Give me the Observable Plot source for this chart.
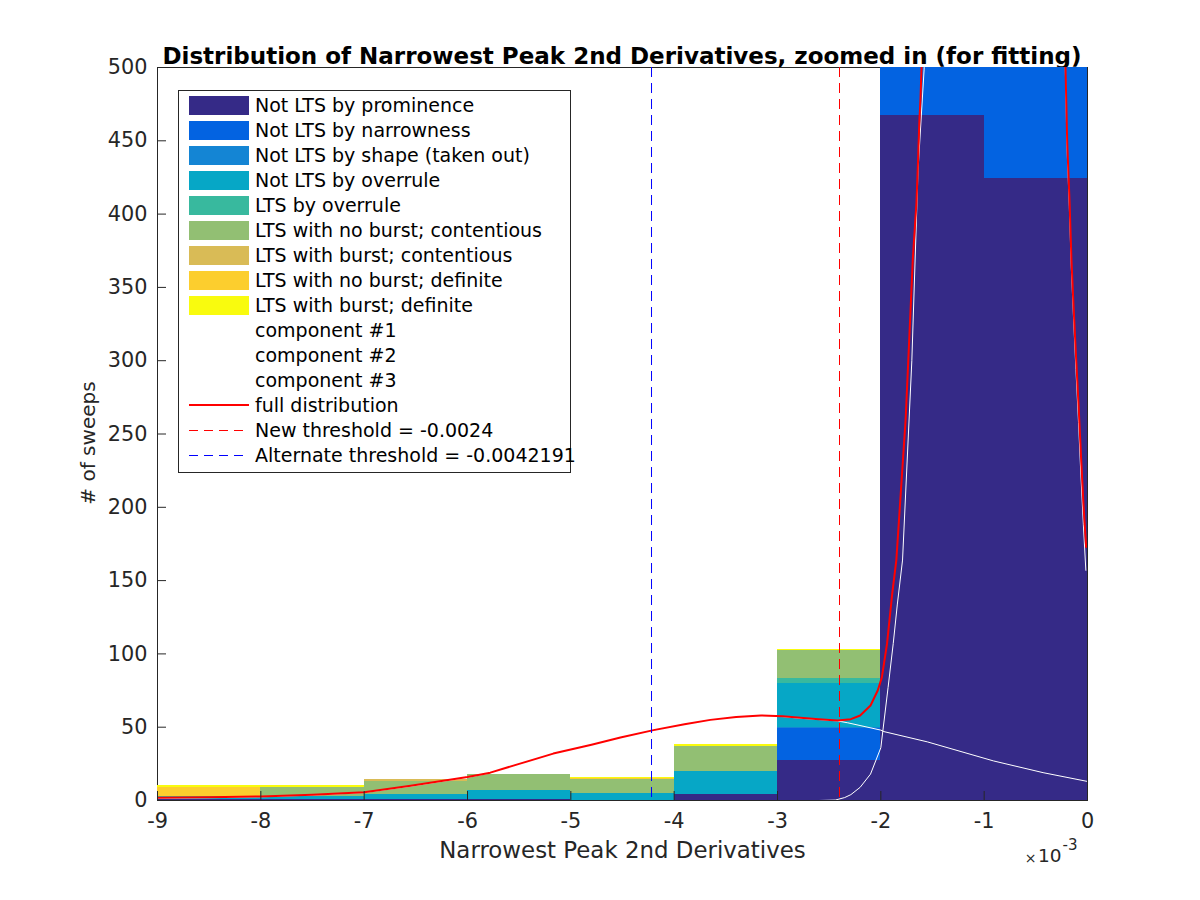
<!DOCTYPE html>
<html>
<head>
<meta charset="utf-8">
<script src="https://cdn.jsdelivr.net/npm/d3@7"></script>
<script src="https://cdn.jsdelivr.net/npm/@observablehq/plot@0.6"></script>
<style>
  body { margin: 0; background: #fff; }
  #wrap { position: relative; width: 1200px; height: 900px; background: #fff; }
  #title { height: 55px; box-sizing: border-box; padding-top: 43px; padding-left: 44px; line-height: 12px;
           font: 700 23px "DejaVu Sans"; text-align: center; color: #000; white-space: nowrap; }
  #legend { position: absolute; left: 178px; top: 90px; width: 393px; height: 383px; box-sizing: border-box;
            border: 1px solid #262626; background: #fff; font: 19px "DejaVu Sans"; color: #000; }
  .row { position: absolute; left: 0; height: 25px; width: 100%; }
  .sw { position: absolute; left: 10px; top: 3px; width: 60px; height: 19px; }
  .ln { position: absolute; left: 10px; top: 11px; width: 60px; height: 0; }
  .lab { position: absolute; left: 76px; top: 0; line-height: 25px; white-space: nowrap; }
</style>
</head>
<body>
<div id="wrap">
  <div id="title"></div>
  <div id="chart"></div>
  <div id="legend"></div>
</div>
<script>
// ---- data (x in units of 1e-3) ----
const titleText = "Distribution of Narrowest Peak 2nd Derivatives, zoomed in (for fitting)";
const xLabel = "Narrowest Peak 2nd Derivatives";
const yLabel = "# of sweeps";
const binEdges = [-9, -8, -7, -6, -5, -4, -3, -2, -1, 0];
const xTicks = [-9, -8, -7, -6, -5, -4, -3, -2, -1, 0];
const yTicks = [0, 50, 100, 150, 200, 250, 300, 350, 400, 450, 500];

const categories = [
  "Not LTS by prominence", "Not LTS by narrowness", "Not LTS by shape (taken out)",
  "Not LTS by overrule", "LTS by overrule", "LTS with no burst; contentious",
  "LTS with burst; contentious", "LTS with no burst; definite", "LTS with burst; definite"
];
const categoryColors = ["#352a87", "#0363e1", "#1485d4", "#06a7c6", "#38b99e", "#92bf73", "#d9bb56", "#fcce2e", "#f9fb0e"];

// counts per bin (bins -9..-8, -8..-7, ..., -1..0)
const notLtsProminence      = [1, 1, 1, 1, 0, 4, 27, 467, 424];
const notLtsNarrowness      = [0, 0, 0, 0, 0, 0, 22, 150, 120];
const notLtsShape           = [0, 0, 0, 0, 0, 0, 1, 0, 0];
const notLtsOverrule        = [1, 2, 3, 6, 5, 16, 30, 0, 0];
const ltsOverrule           = [1, 0, 0, 0, 0, 0, 3, 0, 0];
const ltsNoBurstContentious = [0, 6, 9, 11, 9, 17, 19, 0, 0];
const ltsBurstContentious   = [0, 0, 1, 0, 0, 0, 0, 0, 0];
const ltsNoBurstDefinite    = [6, 0, 0, 0, 1, 0, 0, 0, 0];
const ltsBurstDefinite      = [1, 1, 0, 0, 1, 1, 1, 0, 0];

// fitted curves
const fullX = [-9, -8.5, -8, -7.5, -7, -6.55, -6, -5.78, -5.5, -5.17, -4.8, -4.52, -4.2, -3.9, -3.65, -3.4, -3.16, -2.95, -2.78, -2.6, -2.42, -2.29, -2.2, -2.1, -2.03, -1.99, -1.94, -1.89, -1.85, -1.76, -1.69, -1.655, -1.638, -1.628, -1.616, -1.606, -1.5, -1.2, -0.9, -0.6, -0.35, -0.213, -0.196, -0.174, -0.155, -0.133, -0.109, -0.084, -0.061, -0.036, -0.013];
const fullY = [1.8, 2.2, 2.8, 4, 5.7, 10, 16, 19, 25, 32, 38, 43, 48, 52, 55, 57, 58, 57.5, 56.4, 55.5, 54.6, 55.5, 58, 64.8, 75, 84, 107, 141, 164, 260, 370, 408, 440, 462, 479, 500, 680, 1050, 1150, 1050, 700, 500, 448, 409, 368, 334, 300, 266, 232, 198, 173];

const wideX = [-9, -8.5, -8, -7.5, -7, -6.55, -6, -5.78, -5.5, -5.17, -4.8, -4.52, -4.2, -3.9, -3.65, -3.4, -3.16, -2.95, -2.78, -2.6, -2.42, -2.32, -2.0, -1.97, -1.55, -0.91, -0.43, 0];
const wideY = [1.5, 1.9, 2.5, 3.7, 5.4, 9.7, 15.7, 18.7, 24.7, 31.7, 37.7, 42.7, 47.7, 51.7, 54.7, 56.7, 57.7, 57.2, 56.1, 55.2, 54.3, 53, 48, 47, 40, 27, 19, 13];

const narrowX = [-9, -2.6, -2.44, -2.35, -2.29, -2.2, -2.1, -2.0, -1.93, -1.88, -1.84, -1.79, -1.7, -1.64, -1.58, -1.45, -1.2, -0.9, -0.6, -0.4, -0.215, -0.198, -0.176, -0.157, -0.135, -0.112, -0.087, -0.064, -0.04, -0.016];
const narrowY = [0, 0, 0.3, 2, 4, 9, 18, 36, 77, 107, 134, 164, 300, 430, 500, 700, 1050, 1150, 1050, 750, 500, 445, 405, 364, 329, 294, 258, 222, 188, 157];

const thresholdValues = [-2.4, -4.2191];
const thresholdColors = ["#ff0000", "#0000ff"];
const lineLabels = ["component #1", "component #2", "component #3", "full distribution",
                    "New threshold = -0.0024", "Alternate threshold = -0.0042191"];

// ---- build tables ----
const seriesCounts = [notLtsProminence, notLtsNarrowness, notLtsShape, notLtsOverrule, ltsOverrule,
  ltsNoBurstContentious, ltsBurstContentious, ltsNoBurstDefinite, ltsBurstDefinite];
const bars = [];
for (let b = 0; b < binEdges.length - 1; b++) {
  let base = 0;
  categories.forEach((c, i) => {
    const v = seriesCounts[i][b];
    if (v > 0) bars.push({x1: binEdges[b], x2: binEdges[b + 1], y1: base, y2: base + v, cat: c});
    base += v;
  });
}
const full = fullX.map((x, i) => ({x, y: fullY[i]}));
const wide = wideX.map((x, i) => ({x, y: wideY[i]}));
const narrow = narrowX.map((x, i) => ({x, y: narrowY[i]}));
const thresholds = thresholdValues.map((x, i) => ({x, c: thresholdColors[i]}));

document.getElementById("title").textContent = titleText;

const plot = Plot.plot({
  width: 1200, height: 845,
  marginTop: 12, marginBottom: 100, marginLeft: 157, marginRight: 113,
  style: {fontFamily: "DejaVu Sans", fontSize: "20px", color: "#262626", background: "white"},
  x: {domain: [-9, 0]},
  y: {domain: [0, 500]},
  color: {domain: categories, range: categoryColors},
  marks: [
    Plot.frame({stroke: "#262626"}),
    Plot.rect(bars, {x1: "x1", x2: "x2", y1: "y1", y2: "y2", fill: "cat", clip: true, shapeRendering: "crispEdges"}),
    Plot.line(narrow, {x: "x", y: "y", stroke: "white", strokeWidth: 1, clip: true}),
    Plot.line(wide, {x: "x", y: "y", stroke: "white", strokeWidth: 1, clip: true}),
    Plot.line(full, {x: "x", y: "y", stroke: "#ff0000", strokeWidth: 2, clip: true}),
    Plot.ruleX(thresholds, {x: "x", stroke: d => d.c, strokeWidth: 1, strokeDasharray: "10,6"}),
    Plot.axisX({ticks: xTicks, tickFormat: d => String(d), tickSize: -9, tickPadding: 22, label: null, fontSize: 20.8, stroke: "#262626"}),
    Plot.axisY({ticks: yTicks, tickFormat: d => String(d), tickSize: -9, tickPadding: 19, label: null, fontSize: 20.8, stroke: "#262626"}),
    Plot.text([xLabel], {frameAnchor: "bottom", dy: 50, fontSize: 22.9, lineAnchor: "middle", fill: "#262626"}),
    Plot.text([yLabel], {frameAnchor: "left", dx: -69, dy: 9, rotate: -90, fontSize: 20, textAnchor: "middle", lineAnchor: "middle", fill: "#262626"}),
    Plot.text(["×"], {frameAnchor: "bottom-right", dx: -51, dy: 58, textAnchor: "end", lineAnchor: "middle", fontSize: 14, fill: "#262626"}),
    Plot.text(["10"], {frameAnchor: "bottom-right", dx: -26, dy: 56, textAnchor: "end", lineAnchor: "middle", fontSize: 18.5, fill: "#262626"}),
    Plot.text(["-3"], {frameAnchor: "bottom-right", dx: -25, dy: 45, textAnchor: "start", lineAnchor: "middle", fontSize: 15, fill: "#262626"})
  ]
});
document.getElementById("chart").appendChild(plot);

// ---- legend ----
const legend = document.getElementById("legend");
const rowH = 25.07;
function addRow(i, swatchHtml, label) {
  const r = document.createElement("div");
  r.className = "row";
  r.style.top = (15 + rowH * i - 12.5 - 1) + "px";
  r.innerHTML = swatchHtml + `<span class="lab"></span>`;
  r.querySelector(".lab").textContent = label;
  legend.appendChild(r);
}
categories.forEach((c, i) => addRow(i, `<div class="sw" style="background:${categoryColors[i]}"></div>`, c));
function dashed(color) {
  return `<svg style="position:absolute;left:10px;top:11px" width="60" height="3"><line x1="0" y1="1.5" x2="60" y2="1.5" stroke="${color}" stroke-width="1" stroke-dasharray="9,6"/></svg>`;
}
lineLabels.forEach((l, j) => {
  const i = categories.length + j;
  let sw = "";
  if (j === 3) sw = `<div class="ln" style="border-top:2px solid #ff0000"></div>`;
  if (j === 4) sw = dashed(thresholdColors[0]);
  if (j === 5) sw = dashed(thresholdColors[1]);
  addRow(i, sw, l);
});
</script>
</body>
</html>
